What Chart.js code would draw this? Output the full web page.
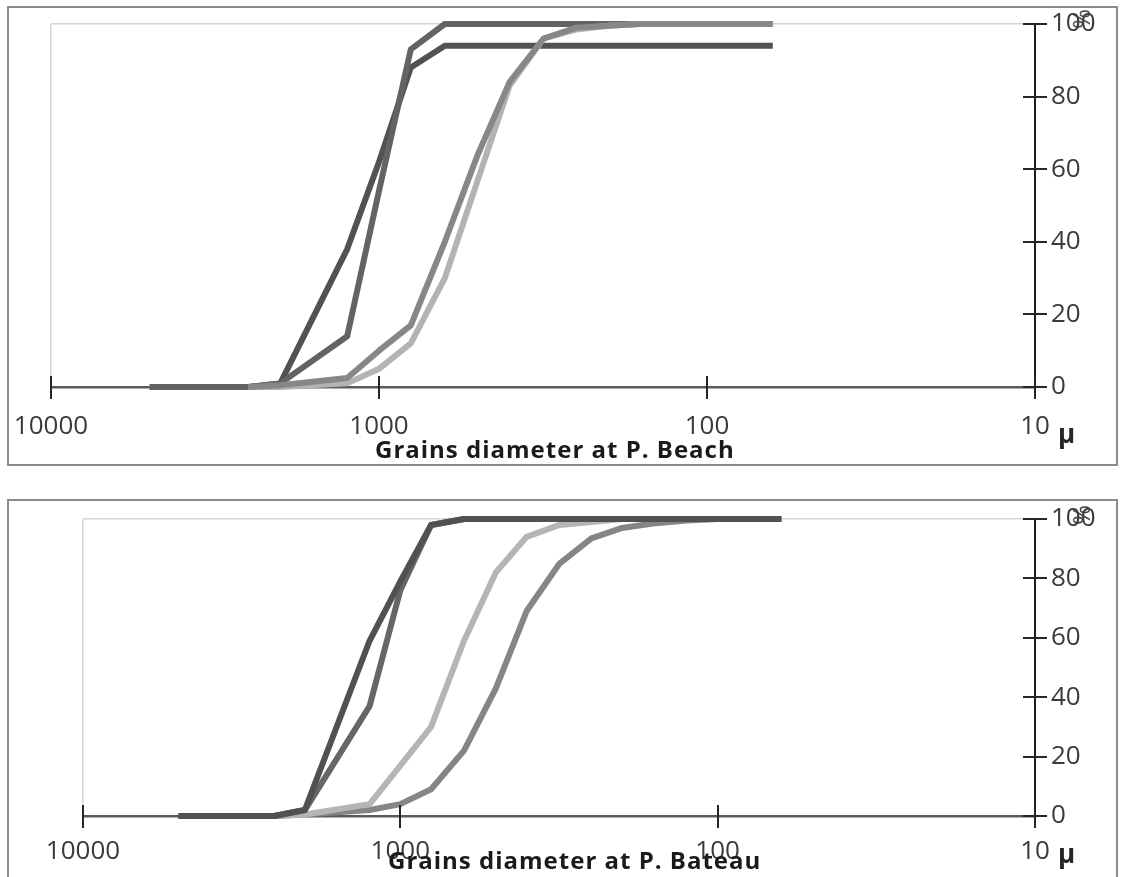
<!DOCTYPE html>
<html lang="en">
<head>
<meta charset="UTF-8">
<title>Grains diameter</title>
<script src="https://cdn.jsdelivr.net/npm/chart.js"></script>
<style>
  body { margin: 0; background: #fff; width: 1121px; height: 877px; overflow: hidden; position: relative; }
  .box { position: absolute; left: 7px; width: 1111px; border: 2px solid #8c8c8c; box-sizing: border-box; background: #fff; }
  #box1 { top: 6px; height: 460px; }
  #box2 { top: 499px; height: 420px; }
  canvas { position: absolute; left: 0; }
  #c1 { top: 0; }
  #c2 { top: 499px; }
  .txt { position: absolute; white-space: nowrap; line-height: 1; font-family: 'Open Sans', sans-serif; }
  .title { font-weight: bold; font-size: 24px; letter-spacing: 1px; color: #1a1a1a; }
  .mu { font-weight: bold; font-size: 26px; color: #262626; }
  .pct { font-size: 24px; color: #404040; transform: rotate(90deg); transform-origin: center center; }
</style>
</head>
<body>
<div class="box" id="box1"></div>
<div class="box" id="box2"></div>
<canvas id="c1" width="1121" height="466"></canvas>
<canvas id="c2" width="1121" height="378"></canvas>

<div class="txt title" style="left:375px; top:437px;">Grains diameter at P. Beach</div>
<div class="txt mu" style="left:1058px; top:420px;">μ</div>
<div class="txt pct" style="left:1072px; top:7px;">%</div>

<div class="txt title" style="left:388px; top:848px;">Grains diameter at P. Bateau</div>
<div class="txt mu" style="left:1058px; top:840px;">μ</div>
<div class="txt pct" style="left:1072px; top:503px;">%</div>

<script>
// sieve sizes (µm) and tick values
const sieveSizes = [5000, 2500, 2000, 1250, 1000, 800, 630, 500, 400, 315, 250, 200, 160, 125, 100, 63];
const xTickValues = [10000, 1000, 100, 10];
const yTickValues = [0, 20, 40, 60, 80, 100];

// cumulative % passing - P. Beach
const beachA = [0, 0, 1, 38, 62, 88, 94, 94, 94, 94, 94, 94, 94, 94, 94, 94];
const beachB = [0, 0, 1, 14, 54, 93, 100, 100, 100, 100, 100, 100, 100, 100, 100, 100];
const beachC = [null, 0, 0.5, 2.5, 10, 17, 40, 64, 84, 96, 99, 99.5, 100, 100, 100, 100];
const beachD = [null, 0, 0, 1, 5, 12, 30, 57, 83, 96, 98.5, 99.5, 100, 100, 100, 100];

// cumulative % passing - P. Bateau
const bateauE = [0, 0, 2, 59, 79, 98, 100, 100, 100, 100, 100, 100, 100, 100, 100, 100];
const bateauF = [0, 0, 2, 37, 76, 98, 100, 100, 100, 100, 100, 100, 100, 100, 100, 100];
const bateauG = [null, 0, 0.5, 4, 17, 30, 59, 82, 94, 98, 99, 100, 100, 100, 100, 100];
const bateauH = [null, 0, 0.5, 2, 4, 9, 22, 43, 69, 85, 93.5, 97, 98.5, 99.5, 100, 100];

function points(vals) {
    return sieveSizes.map((s, i) => ({ x: s, y: vals[i] })).filter(p => p.y !== null);
}

function line(vals, color) {
    return {
        data: points(vals),
        borderColor: color,
        borderWidth: 6,
        pointRadius: 0,
        pointHoverRadius: 0,
        showLine: true,
        tension: 0,
        borderJoinStyle: 'round',
        clip: false
    };
}

// tick marks crossing both axes
const crossTicks = {
    id: 'crossTicks',
    afterDatasetsDraw(chart) {
        const ctx = chart.ctx;
        const x = chart.scales.x, y = chart.scales.y;
        ctx.save();
        ctx.strokeStyle = '#262626';
        ctx.lineWidth = 2;
        ctx.beginPath();
        xTickValues.forEach(v => {
            const px = Math.round(x.getPixelForValue(v));
            ctx.moveTo(px, y.bottom - 11);
            ctx.lineTo(px, y.bottom + 12);
        });
        yTickValues.forEach(v => {
            const py = Math.round(y.getPixelForValue(v));
            ctx.moveTo(x.right - 12, py);
            ctx.lineTo(x.right + 12, py);
        });
        ctx.stroke();
        ctx.restore();
    }
};

const tickFont = { family: 'Open Sans', size: 26 };

function makeChart(id, datasets, padLeft, padTop, xHeight, xPad) {
    return new Chart(document.getElementById(id), {
        type: 'scatter',
        data: { datasets: datasets },
        options: {
            responsive: false,
            animation: false,
            layout: { padding: { left: padLeft, top: padTop, right: 0, bottom: 0 } },
            plugins: { legend: { display: false }, tooltip: { enabled: false } },
            scales: {
                x: {
                    type: 'logarithmic',
                    min: 10,
                    max: 10000,
                    reverse: true,
                    afterBuildTicks: s => { s.ticks = xTickValues.map(v => ({ value: v })); },
                    afterFit: s => { s.height = xHeight; s.paddingLeft = 0; s.paddingRight = 0; },
                    ticks: {
                        autoSkip: false,
                        maxRotation: 0,
                        padding: xPad,
                        color: '#3a3a3a',
                        font: tickFont,
                        callback: v => String(v)
                    },
                    grid: {
                        drawTicks: false,
                        lineWidth: 1.5,
                        color: c => (c.tick && c.tick.value === 10000) ? '#d6d6d6' : 'rgba(0,0,0,0)'
                    },
                    border: { color: '#5a5a5a', width: 2.5 }
                },
                y: {
                    position: 'right',
                    min: 0,
                    max: 100,
                    afterFit: s => { s.width = 86; s.paddingTop = 0; s.paddingBottom = 0; },
                    ticks: {
                        stepSize: 20,
                        padding: 16,
                        color: '#3a3a3a',
                        font: tickFont
                    },
                    grid: {
                        drawTicks: false,
                        lineWidth: 1.5,
                        color: c => (c.tick && c.tick.value === 100) ? '#d6d6d6' : 'rgba(0,0,0,0)'
                    },
                    border: { color: '#1e1e1e', width: 2 }
                }
            }
        },
        plugins: [crossTicks]
    });
}

// first dataset is drawn on top
makeChart('c1', [
    line(beachC, '#878787'),
    line(beachD, '#b3b3b3'),
    line(beachB, '#636363'),
    line(beachA, '#525252')
], 51, 24, 79, 24);

makeChart('c2', [
    line(bateauE, '#515151'),
    line(bateauF, '#666666'),
    line(bateauG, '#b5b5b5'),
    line(bateauH, '#858585')
], 83, 20, 61, 20);
</script>
</body>
</html>
